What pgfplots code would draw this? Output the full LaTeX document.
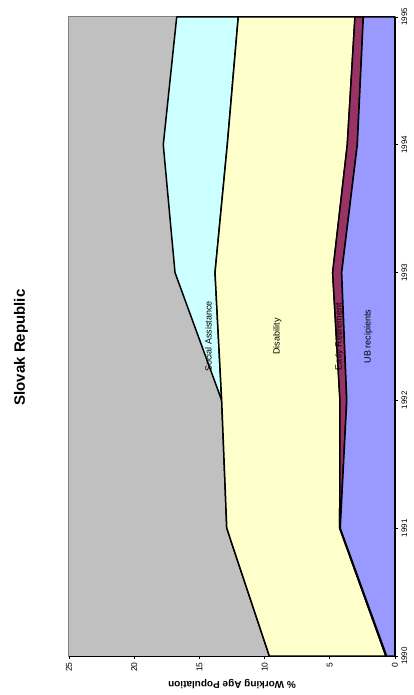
\documentclass[border=0pt]{standalone}
\usepackage{pgfplots}
\pgfplotsset{compat=1.18}
\usepackage{fontspec}
\setmainfont{Liberation Sans}
\definecolor{plotgray}{HTML}{C0C0C0}
\definecolor{framegray}{HTML}{808080}
\definecolor{sacol}{HTML}{CCFFFF}
\definecolor{discol}{HTML}{FFFFCC}
\definecolor{ercol}{HTML}{993366}
\definecolor{ubcol}{HTML}{9999FF}
\begin{document}
\begin{tikzpicture}
\begin{axis}[
  name=ax,
  scale only axis, width=326pt, height=639pt,
  xmin=0, xmax=25, ymin=1990, ymax=1995,
  x dir=reverse,
  clip=false,
  axis background/.style={fill=plotgray, draw=framegray, line width=1pt},
  axis x line*=bottom, axis y line*=right,
  axis line style={-, black, line width=0.9pt},
  xtick={0,5,...,25}, ytick={1990,1991,...,1995},
  tick align=outside, major tick length=3pt,
  tick style={black, line width=0.6pt},
  /pgf/number format/1000 sep={},
  /pgf/number format/assume math mode=true,
  xticklabel style={rotate=90, anchor=east, font=\fontsize{8.5}{10}\selectfont},
  yticklabel style={rotate=90, anchor=north, font=\fontsize{8}{10}\selectfont},
]
\addplot[fill=sacol, draw=black, line width=1.5pt, line join=round] coordinates {(9.64,1990) (12.90,1991) (13.29,1992) (13.80,1993) (12.86,1994) (12.02,1995) (16.74,1995) (17.77,1994) (16.87,1993) (13.29,1992) (12.90,1991) (9.64,1990)} -- cycle;
\addplot[fill=discol, draw=black, line width=1.5pt, line join=round] coordinates {(0.70,1990) (4.24,1991) (4.22,1992) (4.78,1993) (3.66,1994) (3.07,1995) (12.02,1995) (12.86,1994) (13.80,1993) (13.29,1992) (12.90,1991) (9.64,1990)} -- cycle;
\addplot[fill=ercol, draw=black, line width=1.5pt, line join=round] coordinates {(0.64,1990) (4.20,1991) (3.70,1992) (4.09,1993) (2.89,1994) (2.43,1995) (3.07,1995) (3.66,1994) (4.78,1993) (4.22,1992) (4.24,1991) (0.70,1990)} -- cycle;
\addplot[fill=ubcol, draw=black, line width=1.5pt, line join=round] coordinates {(0,1990) (0,1995) (2.43,1995) (2.89,1994) (4.09,1993) (3.70,1992) (4.20,1991) (0.64,1990)} -- cycle;
\node[rotate=90, font=\fontsize{9}{11}\selectfont] at (axis cs:14.3,1992.5) {Social Assistance};
\node[rotate=90, font=\fontsize{9}{11}\selectfont] at (axis cs:9.02,1992.5) {Disability};
\node[rotate=90, font=\fontsize{9}{11}\selectfont] at (axis cs:4.27,1992.5) {Early Retirement};
\node[rotate=90, font=\fontsize{9}{11}\selectfont] at (axis cs:2.05,1992.5) {UB recipients};
\end{axis}
\node[rotate=90, font=\bfseries\fontsize{15}{18}\selectfont] at ([xshift=-48pt,yshift=-11pt]ax.west) {Slovak Republic};
\node[rotate=180, font=\bfseries\fontsize{10}{12}\selectfont] at ([yshift=-28pt]ax.south) {\% Working Age Population};
\pgfresetboundingbox
\path ([xshift=-69pt,yshift=-39pt]ax.south west) rectangle ([xshift=19pt,yshift=17pt]ax.north east);
\end{tikzpicture}
\end{document}
